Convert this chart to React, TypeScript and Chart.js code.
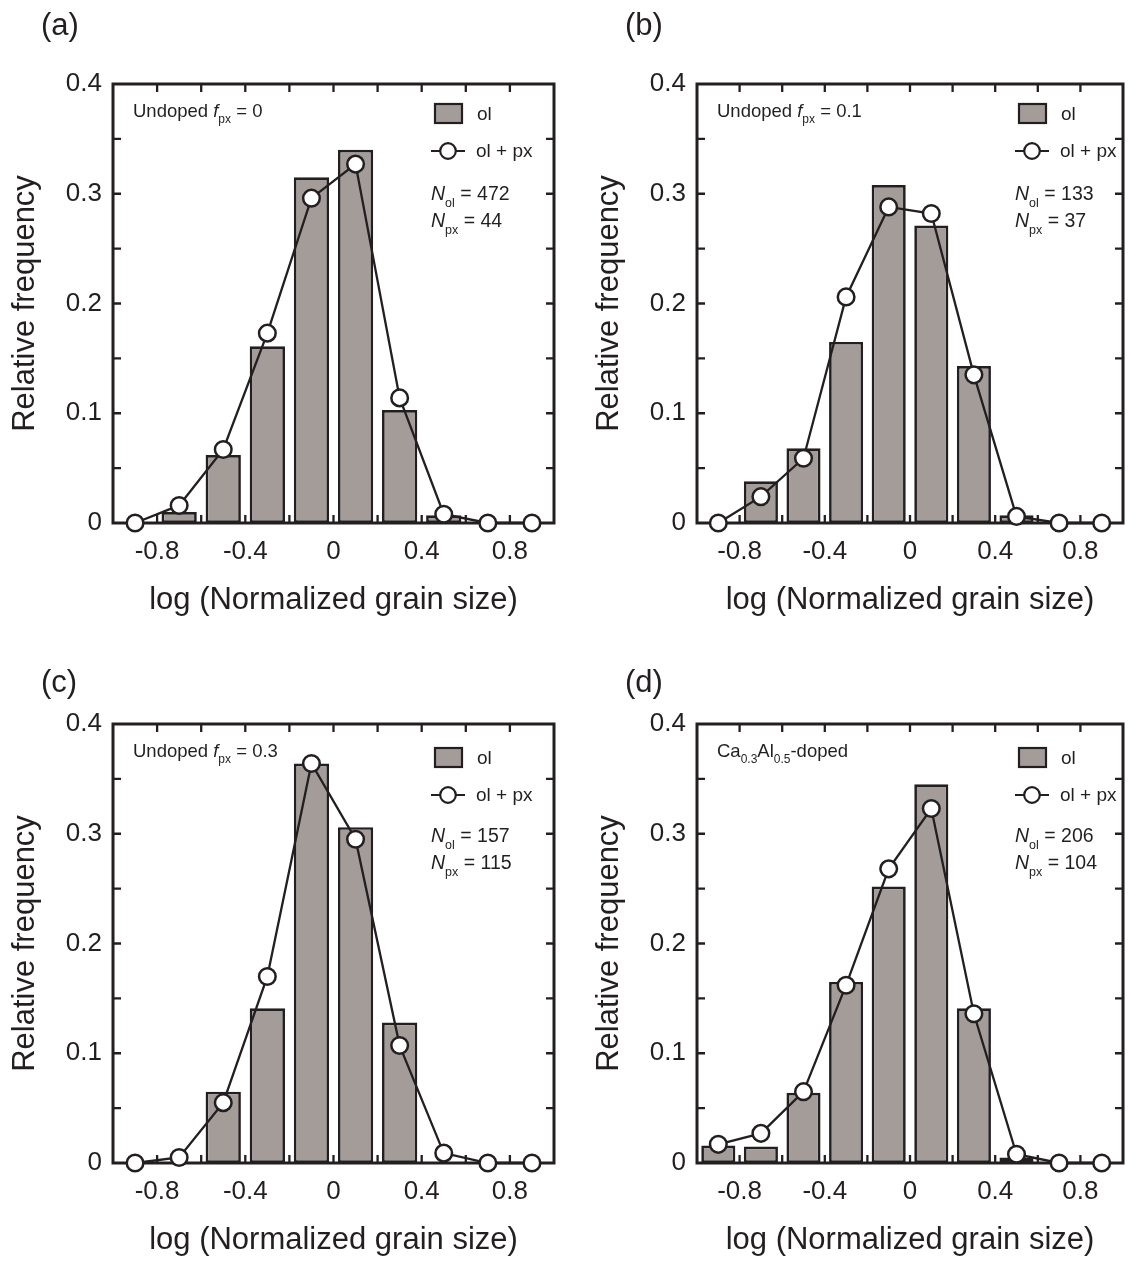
import React, { useEffect, useRef } from 'react';
import { Chart, registerables } from 'chart.js';

Chart.register(...registerables);

// ---------------- data ----------------
const binCenters = [-0.9, -0.7, -0.5, -0.3, -0.1, 0.1, 0.3, 0.5, 0.7, 0.9];
const xTickLabels = ['-0.8', '-0.4', '0', '0.4', '0.8'];
const yTickLabels = ['0', '0.1', '0.2', '0.3', '0.4'];
const panelLetters = ['(a)', '(b)', '(c)', '(d)'];

// ol (bars) and ol + px (open circles) relative frequencies
const olA = [0, 0.010, 0.062, 0.161, 0.315, 0.340, 0.103, 0.007, 0, 0];
const olPxA = [0, 0.016, 0.067, 0.173, 0.296, 0.327, 0.114, 0.008, 0, 0];
const olB = [0, 0.038, 0.068, 0.165, 0.308, 0.271, 0.143, 0.007, 0, 0];
const olPxB = [0, 0.024, 0.059, 0.206, 0.288, 0.282, 0.135, 0.006, 0, 0];
const olC = [0, 0, 0.065, 0.141, 0.364, 0.306, 0.128, 0, 0, 0];
const olPxC = [0, 0.005, 0.055, 0.170, 0.364, 0.295, 0.107, 0.009, 0, 0];
const olD = [0.016, 0.015, 0.064, 0.165, 0.252, 0.345, 0.141, 0.005, 0, 0];
const olPxD = [0.017, 0.027, 0.065, 0.162, 0.268, 0.323, 0.136, 0.008, 0, 0];

const nOl = ['472', '133', '157', '206'];
const nPx = ['44', '37', '115', '104'];

type Run = [string, 'n' | 'i' | 's'];
const titleA: Run[] = [['Undoped ', 'n'], ['f', 'i'], ['px', 's'], [' = 0', 'n']];
const titleB: Run[] = [['Undoped ', 'n'], ['f', 'i'], ['px', 's'], [' = 0.1', 'n']];
const titleC: Run[] = [['Undoped ', 'n'], ['f', 'i'], ['px', 's'], [' = 0.3', 'n']];
const titleD: Run[] = [['Ca', 'n'], ['0.3', 's'], ['Al', 'n'], ['0.5', 's'], ['-doped', 'n']];

const olSeries = [olA, olB, olC, olD];
const olPxSeries = [olPxA, olPxB, olPxC, olPxD];
const titles = [titleA, titleB, titleC, titleD];

// ---------------- style ----------------
const FONT = "'Liberation Sans', Arial, Helvetica, sans-serif";
const INK = '#231f20';
const BAR_FILL = '#a39c99';
const TICK_SIZE = 26;
const TITLE_SIZE = 31;

function drawRuns(ctx: CanvasRenderingContext2D, runs: Run[], x: number, y: number, size: number, subSize: number, subDy: number) {
  let cx = x;
  ctx.textAlign = 'left';
  ctx.textBaseline = 'alphabetic';
  for (const [t, s] of runs) {
    if (s === 's') {
      ctx.font = `${subSize}px ${FONT}`;
      ctx.fillText(t, cx, y + subDy);
    } else {
      ctx.font = `${s === 'i' ? 'italic ' : ''}${size}px ${FONT}`;
      ctx.fillText(t, cx, y);
    }
    cx += ctx.measureText(t).width;
  }
}

function buildConfig(idx: number, W: number, H: number, areaRight: number): any {
  const row = Math.floor(idx / 2);
  const areaTop = 84;
  const areaBottom = 523;
  const areaLeft = 113;
  const legendDy = row === 0 ? 0 : 4;
  const nDy = row === 0 ? 0 : 2;
  const letterY = row === 0 ? 26 : 43;
  const titleHalf = (TITLE_SIZE * 1.2) / 2;

  const barData = binCenters.map((x, i) => ({ x, y: olSeries[idx][i] === 0 ? null : olSeries[idx][i] }));
  const lineData = binCenters.map((x, i) => ({ x, y: olPxSeries[idx][i] }));

  const framePlugin = {
    id: 'frame' + idx,
    beforeDatasetsDraw(chart: any) {
      const { ctx, chartArea: a, scales } = chart;
      ctx.save();
      ctx.strokeStyle = INK;
      ctx.lineWidth = 3;
      ctx.strokeRect(a.left, a.top, a.right - a.left, a.bottom - a.top);
      ctx.lineWidth = 2.3;
      const tl = 8;
      ctx.beginPath();
      for (const t of scales.x.ticks) {
        const px = scales.x.getPixelForValue(t.value);
        if (px <= a.left + 1 || px >= a.right - 1) continue;
        ctx.moveTo(px, a.bottom);
        ctx.lineTo(px, a.bottom - tl);
        ctx.moveTo(px, a.top);
        ctx.lineTo(px, a.top + tl);
      }
      for (const t of scales.y.ticks) {
        const py = scales.y.getPixelForValue(t.value);
        if (py <= a.top + 1 || py >= a.bottom - 1) continue;
        ctx.moveTo(a.left, py);
        ctx.lineTo(a.left + tl, py);
        ctx.moveTo(a.right, py);
        ctx.lineTo(a.right - tl, py);
      }
      ctx.stroke();
      ctx.restore();
    },
    afterDraw(chart: any) {
      const { ctx } = chart;
      ctx.save();
      ctx.fillStyle = INK;
      // panel letter
      ctx.font = `31px ${FONT}`;
      ctx.textAlign = 'left';
      ctx.textBaseline = 'middle';
      ctx.fillText(panelLetters[idx], 41, letterY);
      // sample description
      drawRuns(ctx, titles[idx], 133, 117, 18.5, 12, 6);
      // legend: bar
      ctx.fillStyle = BAR_FILL;
      ctx.fillRect(435, 104 + legendDy, 27, 19);
      ctx.strokeStyle = INK;
      ctx.lineWidth = 2.2;
      ctx.strokeRect(435, 104 + legendDy, 27, 19);
      ctx.fillStyle = INK;
      ctx.font = `19px ${FONT}`;
      ctx.textAlign = 'left';
      ctx.textBaseline = 'alphabetic';
      ctx.fillText('ol', 477, 120 + legendDy);
      // legend: line + circle
      const ly = 151 + legendDy;
      ctx.beginPath();
      ctx.moveTo(431, ly);
      ctx.lineTo(465, ly);
      ctx.lineWidth = 2.2;
      ctx.stroke();
      ctx.beginPath();
      ctx.arc(448, ly, 7.8, 0, Math.PI * 2);
      ctx.fillStyle = '#ffffff';
      ctx.fill();
      ctx.lineWidth = 2.2;
      ctx.stroke();
      ctx.fillStyle = INK;
      ctx.font = `19px ${FONT}`;
      ctx.fillText('ol + px', 476, 157 + legendDy);
      // counts
      drawRuns(ctx, [['N', 'i'], ['ol', 's'], [' = ' + nOl[idx], 'n']], 431, 200 + nDy, 19.5, 12.5, 7);
      drawRuns(ctx, [['N', 'i'], ['px', 's'], [' = ' + nPx[idx], 'n']], 431, 227 + nDy, 19.5, 12.5, 7);
      ctx.restore();
    },
  };

  return {
    type: 'bar',
    data: {
      datasets: [
        {
          type: 'line',
          label: 'ol + px',
          data: lineData,
          order: 0,
          borderColor: INK,
          borderWidth: 2.3,
          tension: 0,
          pointRadius: 8.3,
          pointBorderWidth: 2.5,
          pointBackgroundColor: '#ffffff',
          pointBorderColor: INK,
          clip: false,
        },
        {
          type: 'bar',
          label: 'ol',
          data: barData,
          order: 1,
          backgroundColor: BAR_FILL,
          borderColor: INK,
          borderWidth: 2.7,
          borderSkipped: false,
          barPercentage: 0.8,
          categoryPercentage: 1,
          clip: false,
        },
      ],
    },
    options: {
      responsive: false,
      animation: false,
      devicePixelRatio: 1,
      events: [],
      layout: { padding: { left: 0, top: areaTop, right: W - areaRight, bottom: 0 } },
      plugins: { legend: { display: false }, tooltip: { enabled: false } },
      scales: {
        x: {
          type: 'linear',
          min: -1,
          max: 1,
          offset: false,
          grid: { display: false, drawTicks: false, offset: false },
          border: { display: false },
          ticks: {
            stepSize: 0.2,
            autoSkip: false,
            maxRotation: 0,
            minRotation: 0,
            padding: 13,
            color: INK,
            font: { family: FONT, size: TICK_SIZE },
            callback: (v: number) => {
              const s = String(Math.round(v * 10) / 10);
              return xTickLabels.includes(s) ? s : '';
            },
          },
          title: {
            display: true,
            text: 'log (Normalized grain size)',
            color: INK,
            font: { family: FONT, size: TITLE_SIZE },
            padding: { top: 0, bottom: H - 600 - titleHalf },
          },
          afterFit: (s: any) => {
            s.height = H - areaBottom;
          },
        },
        y: {
          type: 'linear',
          min: 0,
          max: 0.4,
          grid: { display: false, drawTicks: false },
          border: { display: false },
          ticks: {
            stepSize: 0.05,
            autoSkip: false,
            padding: 11,
            color: INK,
            font: { family: FONT, size: TICK_SIZE },
            callback: (v: number) => {
              const s = String(Math.round(v * 100) / 100);
              return yTickLabels.includes(s) ? s : '';
            },
          },
          title: {
            display: true,
            text: 'Relative frequency',
            color: INK,
            font: { family: FONT, size: TITLE_SIZE },
            padding: { top: 25 - titleHalf, bottom: 0 },
          },
          afterFit: (s: any) => {
            s.width = areaLeft;
          },
        },
      },
    },
    plugins: [framePlugin],
  };
}

function Panel({ idx }: { idx: number }) {
  const ref = useRef<HTMLCanvasElement>(null);
  const col = idx % 2;
  const row = Math.floor(idx / 2);
  const left = col === 0 ? 0 : 584;
  const top = row === 0 ? 0 : 640;
  const W = col === 0 ? 584 : 552;
  const H = row === 0 ? 640 : 621;
  const areaRight = col === 0 ? 554 : 550;

  useEffect(() => {
    const chart = new Chart(ref.current as HTMLCanvasElement, buildConfig(idx, W, H, areaRight));
    return () => chart.destroy();
  }, [idx]);

  return (
    <canvas
      ref={ref}
      width={W}
      height={H}
      style={{ position: 'absolute', left, top, width: W, height: H, display: 'block' }}
    />
  );
}

export default function App() {
  return (
    <div style={{ position: 'absolute', left: 0, top: 0, width: 1136, height: 1261, background: '#ffffff', overflow: 'hidden' }}>
      {[0, 1, 2, 3].map((i) => (
        <Panel key={i} idx={i} />
      ))}
    </div>
  );
}
